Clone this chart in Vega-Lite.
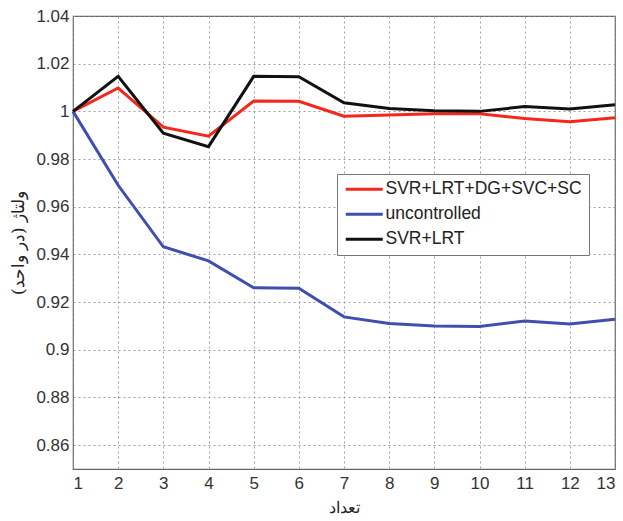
{
  "$schema": "https://vega.github.io/schema/vega-lite/v6.json",
  "autosize": "none",
  "width": 542,
  "height": 453,
  "padding": {"left": 73, "top": 16, "right": 8, "bottom": 52},
  "background": "white",
  "config": {
    "view": {"stroke": "#666", "strokeWidth": 1.2},
    "font": "Liberation Sans"
  },
  "data": {
    "values": [
      {"n": 1, "s": "SVR+LRT+DG+SVC+SC", "v": 1.0},
      {"n": 2, "s": "SVR+LRT+DG+SVC+SC", "v": 1.0098},
      {"n": 3, "s": "SVR+LRT+DG+SVC+SC", "v": 0.9934},
      {"n": 4, "s": "SVR+LRT+DG+SVC+SC", "v": 0.9896},
      {"n": 5, "s": "SVR+LRT+DG+SVC+SC", "v": 1.0043},
      {"n": 6, "s": "SVR+LRT+DG+SVC+SC", "v": 1.0042},
      {"n": 7, "s": "SVR+LRT+DG+SVC+SC", "v": 0.998},
      {"n": 8, "s": "SVR+LRT+DG+SVC+SC", "v": 0.9985},
      {"n": 9, "s": "SVR+LRT+DG+SVC+SC", "v": 0.999},
      {"n": 10, "s": "SVR+LRT+DG+SVC+SC", "v": 0.999},
      {"n": 11, "s": "SVR+LRT+DG+SVC+SC", "v": 0.997},
      {"n": 12, "s": "SVR+LRT+DG+SVC+SC", "v": 0.9956},
      {"n": 13, "s": "SVR+LRT+DG+SVC+SC", "v": 0.9973},
      {"n": 1, "s": "uncontrolled", "v": 1.0},
      {"n": 2, "s": "uncontrolled", "v": 0.969},
      {"n": 3, "s": "uncontrolled", "v": 0.9432},
      {"n": 4, "s": "uncontrolled", "v": 0.9373},
      {"n": 5, "s": "uncontrolled", "v": 0.926},
      {"n": 6, "s": "uncontrolled", "v": 0.9258},
      {"n": 7, "s": "uncontrolled", "v": 0.9138},
      {"n": 8, "s": "uncontrolled", "v": 0.911},
      {"n": 9, "s": "uncontrolled", "v": 0.91},
      {"n": 10, "s": "uncontrolled", "v": 0.9098},
      {"n": 11, "s": "uncontrolled", "v": 0.9121},
      {"n": 12, "s": "uncontrolled", "v": 0.9108},
      {"n": 13, "s": "uncontrolled", "v": 0.9128},
      {"n": 1, "s": "SVR+LRT", "v": 1.0},
      {"n": 2, "s": "SVR+LRT", "v": 1.0147},
      {"n": 3, "s": "SVR+LRT", "v": 0.9908},
      {"n": 4, "s": "SVR+LRT", "v": 0.9852},
      {"n": 5, "s": "SVR+LRT", "v": 1.0147},
      {"n": 6, "s": "SVR+LRT", "v": 1.0145},
      {"n": 7, "s": "SVR+LRT", "v": 1.0036},
      {"n": 8, "s": "SVR+LRT", "v": 1.0012},
      {"n": 9, "s": "SVR+LRT", "v": 1.0003},
      {"n": 10, "s": "SVR+LRT", "v": 1.0},
      {"n": 11, "s": "SVR+LRT", "v": 1.002},
      {"n": 12, "s": "SVR+LRT", "v": 1.001},
      {"n": 13, "s": "SVR+LRT", "v": 1.0028}
    ]
  },
  "mark": {"type": "line", "strokeWidth": 3},
  "encoding": {
    "x": {
      "field": "n",
      "type": "quantitative",
      "scale": {"domain": [1, 13], "nice": false},
      "axis": {
        "title": "تعداد",
        "titleFont": "DejaVu Serif",
        "titleFontWeight": "normal",
        "titleFontSize": 16,
        "titleColor": "#222",
        "titlePadding": 8,
        "values": [1, 2, 3, 4, 5, 6, 7, 8, 9, 10, 11, 12, 13],
        "format": "d",
        "labelFontSize": 17,
        "labelColor": "#333",
        "labelPadding": 6,
        "ticks": false,
        "domain": false,
        "grid": true,
        "gridDash": [2, 3],
        "gridColor": "#888",
        "gridOpacity": 0.8
      }
    },
    "y": {
      "field": "v",
      "type": "quantitative",
      "scale": {"domain": [0.85, 1.04], "nice": false, "zero": false},
      "axis": {
        "title": "ولتاژ (در واحد)",
        "titleFont": "DejaVu Serif",
        "titleFontWeight": "normal",
        "titleFontSize": 17,
        "titleColor": "#222",
        "titlePadding": 8,
        "values": [0.86, 0.88, 0.9, 0.92, 0.94, 0.96, 0.98, 1, 1.02, 1.04],
        "format": ".2~f",
        "labelFontSize": 17,
        "labelColor": "#333",
        "labelPadding": 4,
        "ticks": false,
        "domain": false,
        "grid": true,
        "gridDash": [2, 3],
        "gridColor": "#888",
        "gridOpacity": 0.8
      }
    },
    "color": {
      "field": "s",
      "type": "nominal",
      "scale": {
        "domain": ["SVR+LRT+DG+SVC+SC", "uncontrolled", "SVR+LRT"],
        "range": ["#f5261c", "#3f4fb0", "#111111"]
      },
      "legend": {
        "title": null,
        "orient": "none",
        "legendX": 264,
        "legendY": 158,
        "fillColor": "white",
        "strokeColor": "#777",
        "padding": 6.5,
        "symbolType": "M-3.7,0H3.7",
        "symbolSize": 100,
        "symbolOffset": 12,
        "symbolStrokeWidth": 3,
        "labelOffset": 12.5,
        "labelFontSize": 17.5,
        "labelColor": "#222",
        "rowPadding": 6,
        "labelLimit": 300
      }
    }
  }
}
